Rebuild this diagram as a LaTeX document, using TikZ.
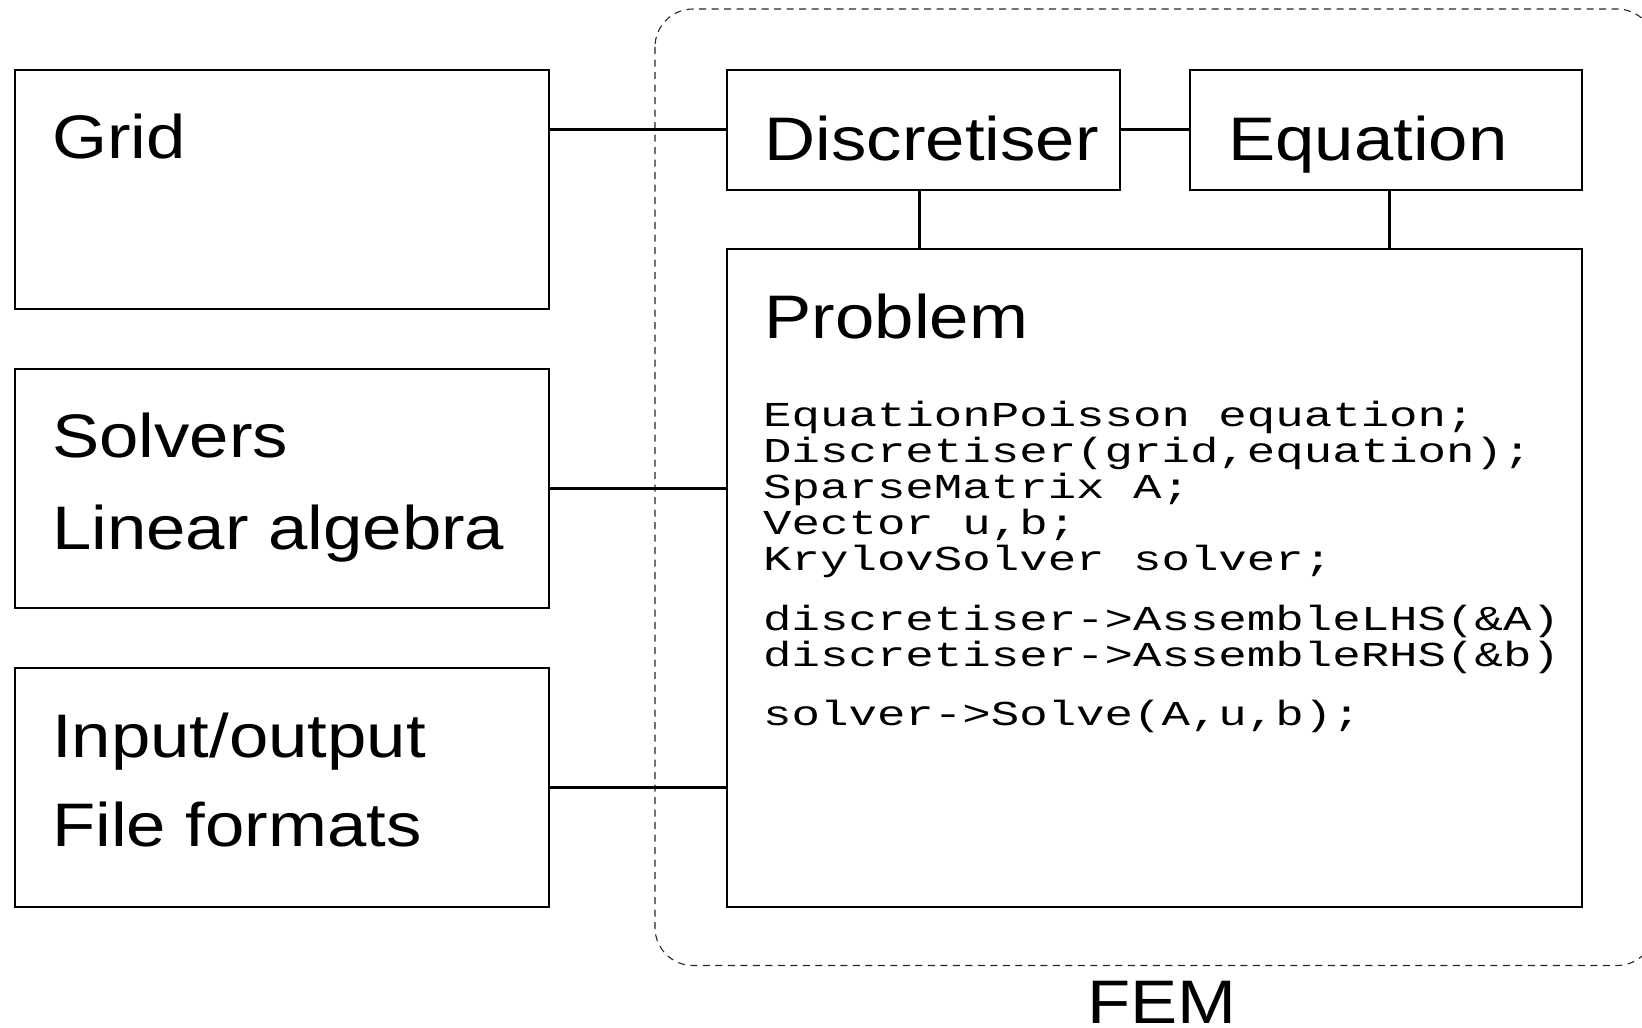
\documentclass[tikz,border=0pt]{standalone}
\usepackage{fontspec}
\setmainfont{Liberation Sans}[FakeStretch=1.15]
\newfontfamily\codefont{Liberation Mono}[FakeStretch=1.355]
\begin{document}
\begin{tikzpicture}[x=1pt,y=-1pt,
  box/.style={draw=black,line width=2pt,minimum width=#1,inner sep=0pt,anchor=north west},
  lbl/.style={anchor=base west,inner sep=0pt,font=\fontsize{61.5}{70}\selectfont},
  code/.style={anchor=base west,inner sep=0pt,font=\codefont\fontsize{35}{36}\selectfont},
  conn/.style={line width=3pt},
  frame/.style={draw=black!85,line width=1.1pt,dash pattern=on 7pt off 5.5pt,rounded corners=38pt}]
\useasboundingbox (0,0) rectangle (1642,1028);
\clip (0,0) rectangle (1642,1028);
% dashed FEM container
\draw[frame] (655,9) rectangle (1655,965.5);
\node[lbl] (fem) at (1087,1023) {FEM};
% left boxes
\node[box=534.5pt,minimum height=239pt] (grid) at (13.5,68.5) {};
\node[box=534.5pt,minimum height=239pt] (solv) at (13.5,367.5) {};
\node[box=534.5pt,minimum height=239pt] (io) at (13.5,667) {};
% right boxes
\node[box=392.5pt,minimum height=120pt] (disc) at (726,68.5) {};
\node[box=392.5pt,minimum height=120pt] (eq) at (1188.5,68.5) {};
\node[box=855pt,minimum height=658pt] (prob) at (726,248) {};
% labels
\node[lbl] (tgrid) at (52,158) {Grid};
\node[lbl] (tsolv) at (52,457.7) {Solvers};
\node[lbl] (tlin) at (52,549) {Linear algebra};
\node[lbl] (tio) at (52,757) {Input/output};
\node[lbl] (tff) at (52,846) {File formats};
\node[lbl] (tdisc) at (764.5,160) {Discretiser};
\node[lbl] (teq) at (1228,160) {Equation};
\node[lbl] (tprob) at (764.5,338.3) {Problem};
% code
\node[code] (c1) at (763,426.7) {EquationPoisson equation;};
\node[code] (c2) at (763,462.7) {Discretiser(grid,equation);};
\node[code] (c3) at (763,498.5) {SparseMatrix A;};
\node[code] (c4) at (763,534.5) {Vector u,b;};
\node[code] (c5) at (763,570.3) {KrylovSolver solver;};
\node[code] (c6) at (763,630) {discretiser->AssembleLHS(\&A)};
\node[code] (c7) at (763,666) {discretiser->AssembleRHS(\&b)};
\node[code] (c8) at (763,725) {solver->Solve(A,u,b);};
% connectors
\draw[conn] (grid.east |- disc.west) -- (disc.west);
\draw[conn] (disc.east) -- (eq.west);
\draw[conn] ([xshift=-3.8pt]disc.south) -- ([xshift=-3.8pt]disc.south |- prob.north);
\draw[conn] ([xshift=3.8pt]eq.south) -- ([xshift=3.8pt]eq.south |- prob.north);
\draw[conn] (solv.east) -- (solv.east -| prob.west);
\draw[conn] (io.east) -- (io.east -| prob.west);
\end{tikzpicture}
\end{document}
